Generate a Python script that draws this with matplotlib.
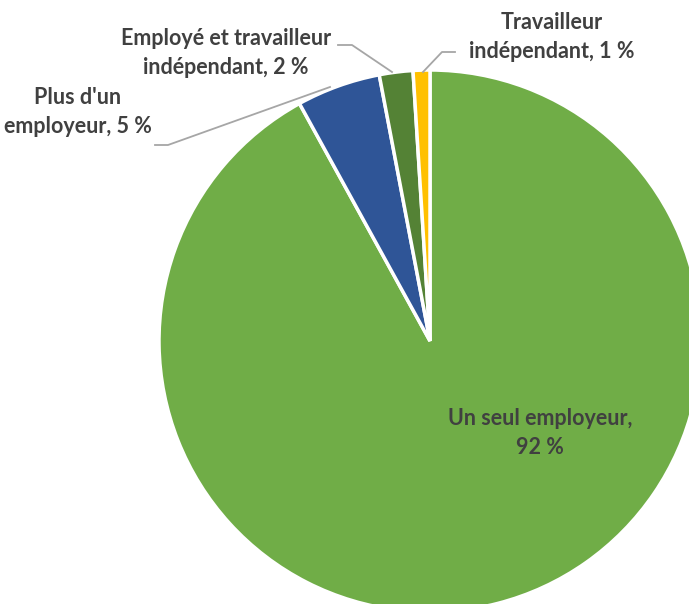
import matplotlib.pyplot as plt

# data
categories = ["Un seul employeur", "Plus d'un employeur",
              "Employé et travailleur indépendant", "Travailleur indépendant"]
values = [92, 5, 2, 1]
colors = ["#70AD47", "#2F5597", "#548235", "#FFC000"]

fig = plt.figure(figsize=(6.89, 6.04), dpi=100)
ax = fig.add_axes([0, 0, 1, 1])

# pie in pixel coords (y flipped)
cx, cy, r = 430, 604 - 341, 271
ax.pie(values, colors=colors, startangle=90, counterclock=False,
       center=(cx, cy), radius=r, frame=True,
       wedgeprops=dict(edgecolor='white', linewidth=2.5))
ax.set_xlim(0, 689)
ax.set_ylim(0, 604)
ax.set_aspect('equal')
ax.axis('off')

fam = ['Lato', 'DejaVu Sans']
tkw = dict(color='#404040', fontweight='bold', fontsize=15.5, family=fam,
           ha='center', va='center', linespacing=1.45)

def Y(y):
    return 604 - y

ax.text(540, Y(433), "Un seul employeur,\n%d %%" % values[0], **tkw)
ax.text(78, Y(112), "Plus d'un\nemployeur, %d %%" % values[1], **tkw)
ax.text(226, Y(53), "Employé et travailleur\nindépendant, %d %%" % values[2], **tkw)
ax.text(552, Y(37), "Travailleur\nindépendant, %d %%" % values[3], **tkw)

# leader lines
lc = '#A6A6A6'
ax.plot([155, 168, 330], [Y(145), Y(145), Y(87)], color=lc, lw=1.3)
ax.plot([338, 352, 392], [Y(45), Y(45), Y(72)], color=lc, lw=1.3)
ax.plot([455, 442, 423], [Y(52), Y(52), Y(72)], color=lc, lw=1.3)

fig.savefig('out.png', dpi=100)
